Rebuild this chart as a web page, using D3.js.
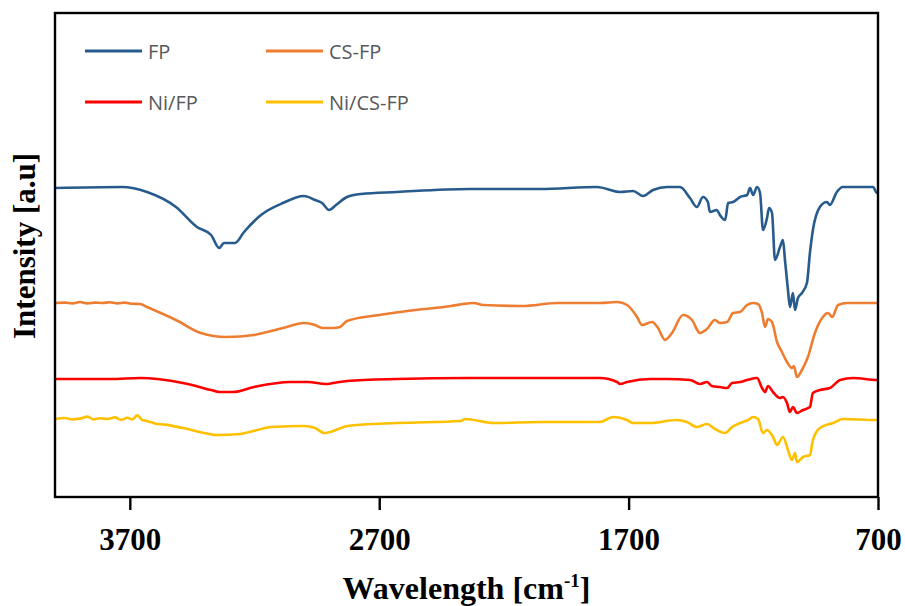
<!DOCTYPE html>
<html>
<head>
<meta charset="utf-8">
<script src="https://cdn.jsdelivr.net/npm/d3@7"></script>
<style>
  body { margin: 0; background: #fff; }
  .tick text { font-family: "Liberation Serif", "Times New Roman", serif; font-weight: bold; font-size: 31px; fill: #000; }
  .legend text { font-family: "Open Sans", "Noto Sans", sans-serif; font-size: 20px; fill: #595959; }
</style>
</head>
<body>
<div id="chart"></div>
<script>
// FTIR spectra, wavenumber (cm-1) vs intensity (a.u., offset per sample)

var fpWn = [4000,3731,3631,3515,3431,3374,3342,3322,3278,3242,3174,3086,3002,2957,2929,2901,2873,2829,2773,2629,
  2340,2055,1827,1734,1682,1642,1602,1546,1494,1454,1426,1402,1382,1374,1346,1334,1313,1301,1281,1253,
  1225,1213,1201,1185,1173,1161,1145,1137,1125,1113,1093,1081,1073,1061,1053,1041,1033,1021,1005,985,
  973,961,933,905,893,865,841,720,704,700];
var fpInt = [77.25,77.5,76.25,72.5,67.5,65.5,62.25,63.5,63.5,66.25,70.5,73.5,75.25,74.25,73.5,71.75,73,75,75.75,76.25,
  77,77,77.5,76.25,76.5,75.25,76.75,77.5,77.5,74.75,72.5,75,73.75,71.25,71.75,70.5,69.25,73.5,73.75,75,
  75.5,77.25,75.5,77.5,76,66.75,69.75,72.25,71,59.25,62.5,64.25,59.25,51.75,47.5,51,46.75,49.75,51,53.5,
  61,66.75,72.5,73.75,73,76.25,77.5,77.5,76,76];

var csWn = [4000,3960,3930,3900,3870,3840,3810,3780,3750,3720,3690,3659,3631,3515,3415,3314,3202,3086,3002,2957,2929,2885,2857,2829,
  2701,2556,2412,2364,2320,2284,2127,1983,1815,1746,1706,1666,1646,1606,1582,1554,1526,1482,
  1446,1414,1386,1354,1334,1305,1281,1253,1225,1201,1181,1165,1153,1141,1125,1105,1085,1065,1045,1037,
  1025,1005,981,953,921,900,884,860,824,704,700];
var csInt = [48.5,48.6,48.4,48.75,48.4,48.6,48.5,48.7,48.4,48.6,48.3,48.25,47.5,44.25,41,40,40.5,42.25,43.5,43,42.25,42.25,42.5,44,
  45.5,46.75,47.75,48.25,48.5,48,47.75,48.5,48.5,48.75,48,45,43,43.75,42.25,39.25,41,45.5,
  44.25,41,42,44.25,43.5,43.75,46,46.25,48,48.5,48.25,46,42.5,44.5,43.75,38.75,36.25,33.75,32.25,32.75,
  30,31.75,35,41,45,46,45,48,48.5,48.5,48.5];

var niWn = [4000,3775,3659,3487,3374,3342,3286,3202,3058,2986,2913,2885,2829,2629,2340,
  1815,1746,1734,1706,1614,1546,1454,1414,1386,1366,1334,1305,1285,1253,1225,1185,1165,1153,1141,1121,
  1093,1081,1065,1053,1041,1025,1001,973,961,933,893,852,800,704,700];
var niInt = [29.5,29.5,29.75,28.5,26.75,26.25,26.25,27.5,28.75,28.75,28.25,28.5,29,29.5,29.75,
  29.75,28.75,28.25,28.75,29.5,29.5,29.25,28.25,28.75,27.75,27.5,27.25,28.5,28.75,29.25,29.75,27.25,26.25,27.75,26.25,
  24.75,25,23.5,21.25,22.5,21,21.75,22.5,26,26.75,27.25,29.25,29.75,29.25,29.25];

var nicsWn = [4000,3960,3930,3900,3870,3845,3820,3790,3760,3735,3710,3690,3670,3651,3631,3600,3560,3487,3342,3258,3130,3002,2957,2921,2873,2829,2629,2372,2356,2240,2055,
  1815,1762,1706,1682,1614,1506,1466,1426,1386,1354,1313,1285,1253,1221,1201,1181,1161,1145,1121,1105,
  1081,1061,1045,1033,1025,1001,973,961,933,880,840,704,700];
var nicsInt = [19.5,19.75,19.4,19.6,20.1,19.4,19.7,19.5,19.9,19.3,19.8,19.4,20.4,19.3,19.0,18.4,18.1,17.25,15.5,15.75,17.5,17.75,17.25,16,16.75,17.75,18.5,19,19.5,18.5,18.75,
  18.75,20,19.25,18.5,18.5,19.25,18.75,17.5,18.25,17,16,17.5,18.5,19.25,20,19.5,16,16.75,15,13,
  15,11.75,9.25,11,8.75,10,10.5,14.25,17.25,18.5,19.5,19.25,19.25];

var seriesNames = ["FP", "CS-FP", "Ni/FP", "Ni/CS-FP"];
var seriesColors = ["#285b8d", "#ed7d31", "#ff0000", "#ffc000"];
var xTicks = [3700, 2700, 1700, 700];

var width = 905;
var height = 606;
var margin = { top: 13, right: 27, bottom: 109, left: 55 };

var svg = d3.select("#chart")
  .append("svg")
  .attr("width", width)
  .attr("height", height);

var xScale = d3.scaleLinear()
  .domain([4000, 700])
  .range([margin.left, width - margin.right]);

var yScale = d3.scaleLinear()
  .domain([0, 121])
  .range([height - margin.bottom, margin.top]);

var series = [
  { name: seriesNames[0], color: seriesColors[0], wn: fpWn, val: fpInt },
  { name: seriesNames[1], color: seriesColors[1], wn: csWn, val: csInt },
  { name: seriesNames[2], color: seriesColors[2], wn: niWn, val: niInt },
  { name: seriesNames[3], color: seriesColors[3], wn: nicsWn, val: nicsInt }
];

var line = d3.line()
  .x(function(d) { return xScale(d[0]); })
  .y(function(d) { return yScale(d[1]); })
  .curve(d3.curveMonotoneX);

// draw the bottom ones first so blue sits on top
series.slice().reverse().forEach(function(s) {
  var pts = s.wn.map(function(w, i) { return [w, s.val[i]]; });
  svg.append("path")
    .datum(pts)
    .attr("fill", "none")
    .attr("stroke", s.color)
    .attr("stroke-width", 2.6)
    .attr("stroke-linejoin", "round")
    .attr("d", line);
});

// frame
svg.append("rect")
  .attr("x", margin.left)
  .attr("y", margin.top)
  .attr("width", width - margin.left - margin.right)
  .attr("height", height - margin.top - margin.bottom)
  .attr("fill", "none")
  .attr("stroke", "#000")
  .attr("stroke-width", 2.4);

var xAxis = d3.axisBottom(xScale)
  .tickValues(xTicks)
  .tickSize(13)
  .tickPadding(18)
  .tickFormat(d3.format("d"));

var gx = svg.append("g")
  .attr("transform", "translate(0," + (height - margin.bottom) + ")")
  .call(xAxis);
gx.select(".domain").remove();
gx.selectAll(".tick line").attr("stroke", "#000").attr("stroke-width", 2.4);

// axis titles
var xTitle = svg.append("text")
  .attr("x", (margin.left + width - margin.right) / 2)
  .attr("y", 599)
  .attr("text-anchor", "middle")
  .style("font-family", "'Liberation Serif', 'Times New Roman', serif")
  .style("font-weight", "bold")
  .style("font-size", "32px");
xTitle.append("tspan").text("Wavelength [cm");
xTitle.append("tspan").attr("dy", -12).style("font-size", "19px").text("-1");
xTitle.append("tspan").attr("dy", 12).text("]");

svg.append("text")
  .attr("transform", "translate(35,246)rotate(-90)")
  .attr("text-anchor", "middle")
  .style("font-family", "'Liberation Serif', 'Times New Roman', serif")
  .style("font-weight", "bold")
  .style("font-size", "31px")
  .text("Intensity [a.u]");

// legend, two columns
var legend = svg.append("g").attr("class", "legend");
series.forEach(function(s, i) {
  var col = i % 2;
  var row = Math.floor(i / 2);
  var lx = 85 + col * 181;
  var ly = 51 + row * 51;
  legend.append("line")
    .attr("x1", lx).attr("x2", lx + 57)
    .attr("y1", ly).attr("y2", ly)
    .attr("stroke", s.color)
    .attr("stroke-width", 3);
  legend.append("text")
    .attr("x", lx + 63)
    .attr("y", ly + 7.5)
    .text(s.name);
});
</script>
</body>
</html>
